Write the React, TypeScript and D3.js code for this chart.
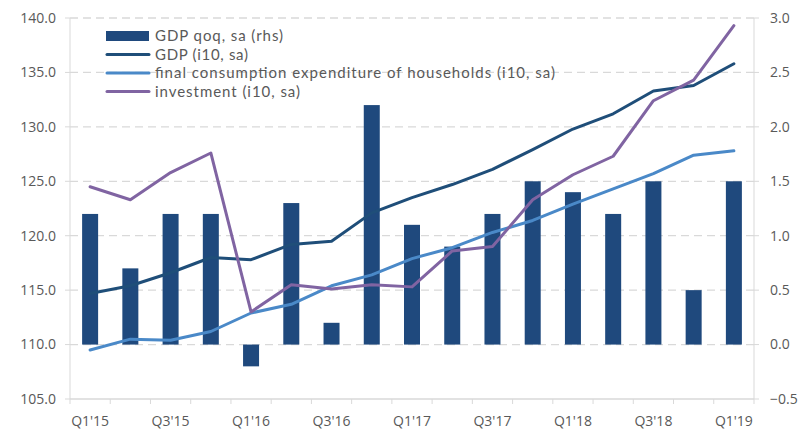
import React, { useEffect, useRef } from 'react';
import * as d3 from 'd3';

const quarters = [
  "Q1'15", "Q2'15", "Q3'15", "Q4'15", "Q1'16", "Q2'16", "Q3'16", "Q4'16",
  "Q1'17", "Q2'17", "Q3'17", "Q4'17", "Q1'18", "Q2'18", "Q3'18", "Q4'18", "Q1'19",
];
const gdpQoq = [1.2, 0.7, 1.2, 1.2, -0.2, 1.3, 0.2, 2.2, 1.1, 0.9, 1.2, 1.5, 1.4, 1.2, 1.5, 0.5, 1.5];
const gdpIndex = [114.7, 115.4, 116.6, 118.0, 117.8, 119.2, 119.5, 122.1, 123.5, 124.7, 126.1, 127.9, 129.8, 131.2, 133.3, 133.8, 135.8];
const consumption = [109.5, 110.5, 110.4, 111.2, 112.9, 113.7, 115.4, 116.4, 117.9, 118.9, 120.3, 121.4, 122.9, 124.3, 125.7, 127.4, 127.8];
const investment = [124.5, 123.3, 125.8, 127.6, 113.0, 115.5, 115.1, 115.5, 115.3, 118.6, 119.0, 123.3, 125.6, 127.3, 132.4, 134.3, 139.3];
const leftTicks = [105, 110, 115, 120, 125, 130, 135, 140];
const rightTicks = [-0.5, 0, 0.5, 1, 1.5, 2, 2.5, 3];

const BAR = '#1f497d';
const GDP = '#1f4e79';
const CONS = '#4a89c8';
const INV = '#8064a2';
const TEXT = '#595959';
const GRID = '#d9d9d9';
const FONT = '"Open Sans", "Noto Sans", sans-serif';
const LEG_FONT = 'Lato, "Open Sans", sans-serif';

const App = () => {
  const svgRef = useRef<SVGSVGElement>(null);

  useEffect(() => {
    const svg = d3.select(svgRef.current);
    svg.selectAll('*').remove();

    const left = 70, right = 754, top = 18, bottom = 399;

    const x = d3.scaleBand().domain(quarters).range([left, right]).paddingInner(0).paddingOuter(0);
    const yL = d3.scaleLinear().domain([105, 140]).range([bottom, top]);
    const yR = d3.scaleLinear().domain([-0.5, 3]).range([bottom, top]);
    const cx = (i: number) => x(quarters[i])! + x.bandwidth() / 2;

    // gridlines
    svg.append('g').selectAll('line')
      .data(leftTicks.filter(t => t > 105))
      .enter().append('line')
      .attr('x1', left).attr('x2', right)
      .attr('y1', d => yL(d)).attr('y2', d => yL(d))
      .attr('stroke', GRID).attr('stroke-width', 1.3)
      .attr('stroke-dasharray', '8,5');

    // axes lines
    svg.append('line').attr('x1', left).attr('x2', left).attr('y1', top).attr('y2', bottom)
      .attr('stroke', GRID).attr('stroke-width', 1);
    svg.append('line').attr('x1', right).attr('x2', right).attr('y1', top).attr('y2', bottom)
      .attr('stroke', GRID).attr('stroke-width', 1);
    svg.append('line').attr('x1', left).attr('x2', right).attr('y1', bottom).attr('y2', bottom)
      .attr('stroke', GRID).attr('stroke-width', 1.3);

    // left ticks + labels
    const lg = svg.append('g');
    leftTicks.forEach(t => {
      lg.append('line').attr('x1', left - 5).attr('x2', left).attr('y1', yL(t)).attr('y2', yL(t))
        .attr('stroke', GRID);
      lg.append('text').attr('x', 56).attr('y', yL(t)).attr('dy', '0.35em')
        .attr('text-anchor', 'end').attr('fill', TEXT)
        .style('font-family', FONT).style('font-size', '14px')
        .text(d3.format('.1f')(t));
    });

    // right ticks + labels
    const rg = svg.append('g');
    rightTicks.forEach(t => {
      rg.append('line').attr('x1', right).attr('x2', right + 5).attr('y1', yR(t)).attr('y2', yR(t))
        .attr('stroke', GRID);
      rg.append('text').attr('x', 770).attr('y', yR(t)).attr('dy', '0.35em')
        .attr('fill', TEXT)
        .style('font-family', FONT).style('font-size', '14px')
        .text(d3.format('.1f')(t));
    });

    // x ticks + labels
    const xg = svg.append('g');
    quarters.forEach((q, i) => {
      xg.append('line').attr('x1', x(q)!).attr('x2', x(q)!).attr('y1', bottom).attr('y2', bottom + 5)
        .attr('stroke', GRID);
      if (i % 2 === 0) {
        xg.append('text').attr('x', cx(i)).attr('y', 426)
          .attr('text-anchor', 'middle').attr('fill', TEXT)
          .style('font-family', FONT).style('font-size', '14px')
          .text(q);
      }
    });
    xg.append('line').attr('x1', right).attr('x2', right).attr('y1', bottom).attr('y2', bottom + 5)
      .attr('stroke', GRID);

    // bars
    const bw = 16;
    svg.append('g').selectAll('rect')
      .data(gdpQoq)
      .enter().append('rect')
      .attr('x', (_d, i) => cx(i) - bw / 2)
      .attr('width', bw)
      .attr('y', d => yR(Math.max(0, d)))
      .attr('height', d => Math.abs(yR(d) - yR(0)))
      .attr('fill', BAR);

    // lines
    const line = d3.line<number>().x((_d, i) => cx(i)).y(d => yL(d));
    const series: [number[], string][] = [[consumption, CONS], [gdpIndex, GDP], [investment, INV]];
    series.forEach(([vals, col]) => {
      svg.append('path').datum(vals)
        .attr('d', line)
        .attr('fill', 'none')
        .attr('stroke', col)
        .attr('stroke-width', 3)
        .attr('stroke-linejoin', 'round')
        .attr('stroke-linecap', 'round');
    });

    // legend
    const legend = [
      { label: 'GDP qoq, sa (rhs)', color: BAR, bar: true, w: 128 },
      { label: 'GDP (i10, sa)', color: GDP, bar: false, w: 93 },
      { label: 'final consumption expenditure of households (i10, sa)', color: CONS, bar: false, w: 400 },
      { label: 'investment (i10, sa)', color: INV, bar: false, w: 145 },
    ];
    const leg = svg.append('g');
    legend.forEach((l, i) => {
      const ly = 36 + i * 18.5;
      if (l.bar) {
        leg.append('rect').attr('x', 106).attr('y', ly - 5).attr('width', 43).attr('height', 10).attr('fill', l.color);
      } else {
        leg.append('line').attr('x1', 107).attr('x2', 149).attr('y1', ly).attr('y2', ly)
          .attr('stroke', l.color).attr('stroke-width', 3).attr('stroke-linecap', 'round');
      }
      leg.append('text').attr('x', 155).attr('y', ly).attr('dy', '0.35em')
        .attr('fill', TEXT)
        .attr('textLength', l.w).attr('lengthAdjust', 'spacing')
        .style('font-family', LEG_FONT).style('font-size', '15px')
        .text(l.label);
    });
  }, []);

  return <svg ref={svgRef} width={812} height={432} style={{ position: 'absolute', left: 0, top: 0 }} />;
};

export default App;
